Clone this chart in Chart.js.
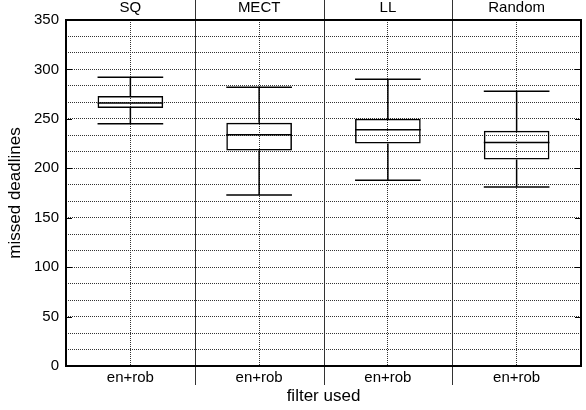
<!DOCTYPE html>
<html>
<head>
<meta charset="utf-8">
<script src="https://cdn.jsdelivr.net/npm/chart.js@4/dist/chart.umd.min.js"></script>
<style>
  html, body { margin: 0; padding: 0; background: #fff; }
  #wrap { width: 586px; height: 410px; }
</style>
</head>
<body>
<div id="wrap"><canvas id="myChart"></canvas></div>
<script>
// Les donnees
const categories = ['SQ', 'MECT', 'LL', 'Random'];
const xTickLabels = ['en+rob', 'en+rob', 'en+rob', 'en+rob'];
const lowerWhisker = [245, 173, 188, 181];
const q1 = [261, 218, 225, 209];
const median = [266, 234, 239, 226];
const q3 = [273, 246, 250, 238];
const upperWhisker = [292, 282, 290, 278];
const yTickLabels = [0, 50, 100, 150, 200, 250, 300, 350];
const yMinorPerMajor = 3;

const FONT = '"Liberation Sans", Arial, Helvetica, sans-serif';
Chart.defaults.font.family = FONT;
Chart.defaults.color = '#000';

// Moustaches, mediane, separateurs et cadre
const boxPlugin = {
    id: 'boxPlugin',
    afterDatasetsDraw(chart) {
        const ctx = chart.ctx;
        const x = chart.scales.x;
        const y = chart.scales.y;
        const area = chart.chartArea;
        const meta = chart.getDatasetMeta(0);
        ctx.save();
        ctx.strokeStyle = '#000';
        ctx.lineWidth = 1.5;
        ctx.setLineDash([]);
        categories.forEach((c, i) => {
            const bar = meta.data[i];
            const cx = x.getPixelForValue(i);
            const half = bar.width / 2;
            ctx.beginPath();
            // moustache haute
            ctx.moveTo(cx, y.getPixelForValue(q3[i]));
            ctx.lineTo(cx, y.getPixelForValue(upperWhisker[i]));
            ctx.moveTo(cx - half, y.getPixelForValue(upperWhisker[i]));
            ctx.lineTo(cx + half, y.getPixelForValue(upperWhisker[i]));
            // moustache basse
            ctx.moveTo(cx, y.getPixelForValue(q1[i]));
            ctx.lineTo(cx, y.getPixelForValue(lowerWhisker[i]));
            ctx.moveTo(cx - half, y.getPixelForValue(lowerWhisker[i]));
            ctx.lineTo(cx + half, y.getPixelForValue(lowerWhisker[i]));
            // mediane
            ctx.moveTo(cx - half, y.getPixelForValue(median[i]));
            ctx.lineTo(cx + half, y.getPixelForValue(median[i]));
            ctx.stroke();
        });
        // separateurs entre categories
        ctx.lineWidth = 1;
        ctx.strokeStyle = '#333';
        for (let i = 0; i < categories.length - 1; i++) {
            const bx = Math.round((x.getPixelForValue(i) + x.getPixelForValue(i + 1)) / 2) + 0.5;
            ctx.beginPath();
            ctx.moveTo(bx, 0);
            ctx.lineTo(bx, area.bottom + 19);
            ctx.stroke();
        }
        // petites graduations a gauche et a droite
        ctx.strokeStyle = '#000';
        yTickLabels.forEach(v => {
            const py = Math.round(y.getPixelForValue(v)) + 0.5;
            ctx.beginPath();
            ctx.moveTo(area.left, py);
            ctx.lineTo(area.left + 6, py);
            ctx.moveTo(area.right, py);
            ctx.lineTo(area.right - 6, py);
            ctx.stroke();
        });
        // cadre
        ctx.lineWidth = 2;
        ctx.strokeRect(area.left, area.top, area.right - area.left, area.bottom - area.top);
        ctx.restore();
    }
};

const graph = document.getElementById('myChart');
new Chart(graph, {
    type: 'bar',
    data: {
        labels: xTickLabels,
        datasets: [{
            label: 'box',
            data: q1.map((v, i) => [v, q3[i]]),
            backgroundColor: 'rgba(0,0,0,0)',
            borderColor: '#000',
            borderWidth: 1.5,
            borderSkipped: false,
            barPercentage: 0.51,
            categoryPercentage: 1
        }]
    },
    options: {
        responsive: true,
        maintainAspectRatio: false,
        animation: false,
        layout: { padding: { right: 5, top: 0, bottom: 0, left: 0 } },
        plugins: {
            legend: { display: false },
            tooltip: { enabled: false }
        },
        scales: {
            x: {
                position: 'bottom',
                offset: true,
                grid: {
                    offset: false,
                    color: '#333',
                    lineWidth: 1,
                    drawTicks: false
                },
                border: { display: false, dash: [1, 1] },
                ticks: { font: { size: 15 }, padding: 3, maxRotation: 0 },
                title: { display: true, text: 'filter used', font: { size: 17 }, padding: { top: 0, bottom: 3 } },
                afterFit(scale) { scale.height = 44; }
            },
            xTop: {
                type: 'category',
                position: 'top',
                labels: categories,
                offset: true,
                grid: { display: false, drawTicks: false, tickLength: 0 },
                border: { display: false },
                ticks: { font: { size: 15 }, padding: 3, maxRotation: 0 },
                afterFit(scale) { scale.height = 20; }
            },
            y: {
                min: 0,
                max: 350,
                afterBuildTicks(scale) {
                    const step = (yTickLabels[1] - yTickLabels[0]) / yMinorPerMajor;
                    const ticks = [];
                    const n = (yTickLabels.length - 1) * yMinorPerMajor;
                    for (let j = 0; j <= n; j++) ticks.push({ value: j * step });
                    scale.ticks = ticks;
                },
                grid: {
                    color: '#333',
                    lineWidth: 1,
                    drawTicks: false
                },
                border: { display: false, dash: [1, 1] },
                ticks: {
                    font: { size: 15 },
                    padding: 7,
                    autoSkip: false,
                    callback(value) {
                        const r = Math.round(value / 50) * 50;
                        return Math.abs(value - r) < 0.01 && yTickLabels.includes(r) ? String(r) : '';
                    }
                },
                title: { display: true, text: 'missed deadlines', font: { size: 17 }, padding: { top: 5, bottom: 0 } },
                afterFit(scale) { scale.width = 66; }
            }
        }
    },
    plugins: [boxPlugin]
});
</script>
</body>
</html>
